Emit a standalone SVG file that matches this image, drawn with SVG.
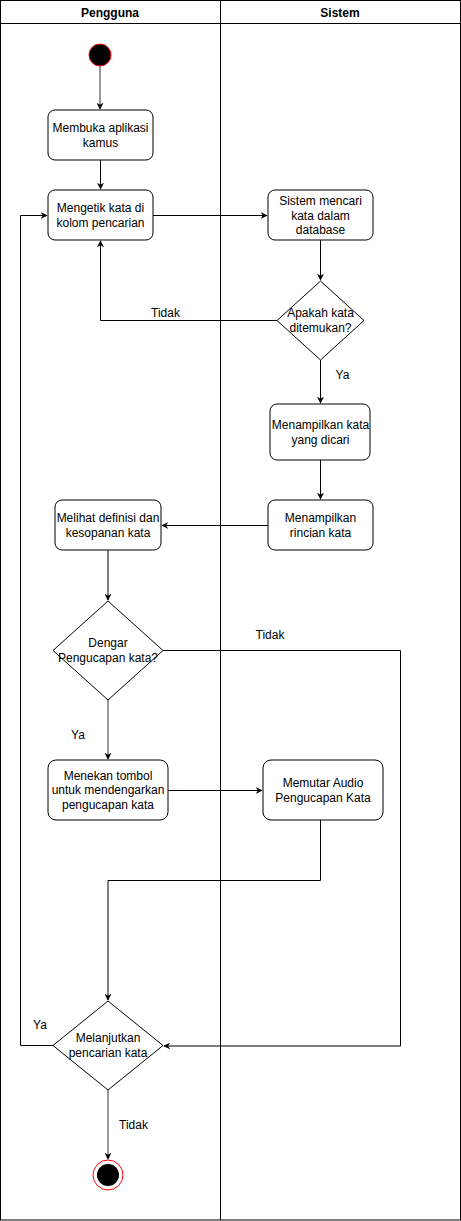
<svg xmlns="http://www.w3.org/2000/svg" width="461" height="1221" viewBox="0 0 461 1221">
<style>
text{font-family:"Liberation Sans",Arial,sans-serif;font-size:12px;fill:#000;text-anchor:middle}
.h{font-weight:bold}
.n{fill:#fff;stroke:#000;stroke-width:1}
.c{fill:none;stroke:#000;stroke-width:1}
.g{fill:none;stroke:#555;stroke-width:1.2}
</style>
<defs>
<marker id="a" viewBox="0 0 10 10" refX="9" refY="5" markerWidth="7" markerHeight="7" markerUnits="userSpaceOnUse" orient="auto">
<path d="M0,0 L10,5 L0,10 L3,5 z" fill="#000"/>
</marker>
</defs>
<g id="pool">
<rect x="0.5" y="0.5" width="460" height="1219.5" fill="#fff" stroke="#000"/>
<line x1="0.5" y1="23.5" x2="460.5" y2="23.5" stroke="#000"/>
<line x1="220.5" y1="0.5" x2="220.5" y2="1220" stroke="#000"/>
<text class="h" x="110" y="16.5">Pengguna</text>
<text class="h" x="340" y="16.5">Sistem</text>
</g>
<g id="connectors">
<path class="g" d="M100,66 V109" marker-end="url(#a)"/>
<path class="c" d="M100.5,160 V189" marker-end="url(#a)"/>
<path class="c" d="M153,215.5 H267" marker-end="url(#a)"/>
<path class="c" d="M320.5,240 V280" marker-end="url(#a)"/>
<path class="c" d="M277,320.5 H100.5 V241" marker-end="url(#a)"/>
<path class="c" d="M320.5,360 V403" marker-end="url(#a)"/>
<path class="c" d="M320.5,460 V499" marker-end="url(#a)"/>
<path class="c" d="M268,525.5 H162" marker-end="url(#a)"/>
<path class="c" d="M108,550 V600" marker-end="url(#a)"/>
<path class="g" d="M108,700 V759" marker-end="url(#a)"/>
<path class="c" d="M168,790.5 H262" marker-end="url(#a)"/>
<path class="c" d="M320.5,820 V880.5 H108 V1000" marker-end="url(#a)" style="stroke:#000"/>
<path class="c" d="M163,650.5 H400.5 V1046 H164" marker-end="url(#a)"/>
<path class="c" d="M53,1045.5 H20.5 V215.5 H47" marker-end="url(#a)"/>
<path class="g" d="M108,1090 V1159" marker-end="url(#a)"/>
<text x="165.5" y="316.5">Tidak</text>
<text x="342.5" y="379">Ya</text>
<text x="270" y="638.5">Tidak</text>
<text x="78" y="738.5">Ya</text>
<text x="40" y="1028.5">Ya</text>
<text x="133.5" y="1128.5">Tidak</text>
</g>
<g id="start"><circle cx="100" cy="55" r="11" fill="#000" stroke="#f00" stroke-width="1"/></g>
<g id="n1"><rect class="n" x="48" y="110" width="105" height="50" rx="7"/><text x="100.5" y="132">Membuka aplikasi</text><text x="100.5" y="147">kamus</text></g>
<g id="n2"><rect class="n" x="48" y="190" width="105" height="50" rx="7"/><text x="100.5" y="211.5">Mengetik kata di</text><text x="100.5" y="226.5">kolom pencarian</text></g>
<g id="n3"><rect class="n" x="268" y="190" width="105" height="50" rx="7"/><text x="320.5" y="205">Sistem mencari</text><text x="320.5" y="219.5">kata dalam</text><text x="320.5" y="234">database</text></g>
<g id="d1"><path class="n" d="M320.5,281 L364,320.5 L320.5,360 L277,320.5 Z"/><text x="320.5" y="316.5">Apakah kata</text><text x="320.5" y="331.5">ditemukan?</text></g>
<g id="n4"><rect class="n" x="270" y="404" width="100" height="56" rx="7"/><text x="320.5" y="429">Menampilkan kata</text><text x="320.5" y="444">yang dicari</text></g>
<g id="n5"><rect class="n" x="268" y="500" width="105" height="50" rx="7"/><text x="320.5" y="522">Menampilkan</text><text x="320.5" y="537">rincian kata</text></g>
<g id="n6"><rect class="n" x="55" y="500" width="106" height="50" rx="7"/><text x="108" y="522">Melihat definisi dan</text><text x="108" y="537">kesopanan kata</text></g>
<g id="d2"><path class="n" d="M108,601 L163,650.5 L108,700 L53,650.5 Z"/><text x="108" y="647">Dengar</text><text x="108" y="662">Pengucapan kata?</text></g>
<g id="n7"><rect class="n" x="48" y="760" width="120" height="60" rx="8"/><text x="108" y="779.5">Menekan tombol</text><text x="108" y="794">untuk mendengarkan</text><text x="108" y="808.5">pengucapan kata</text></g>
<g id="n8"><rect class="n" x="263" y="760" width="120" height="60" rx="8"/><text x="323" y="786.5">Memutar Audio</text><text x="323" y="801.5">Pengucapan Kata</text></g>
<g id="d3"><path class="n" d="M108,1001 L163,1045.5 L108,1090 L53,1045.5 Z"/><text x="108" y="1042">Melanjutkan</text><text x="108" y="1057">pencarian kata</text></g>
<g id="end"><circle cx="108" cy="1175" r="15" fill="#fff" stroke="#f00" stroke-width="1"/><circle cx="108" cy="1175" r="11" fill="#000"/></g>
</svg>
